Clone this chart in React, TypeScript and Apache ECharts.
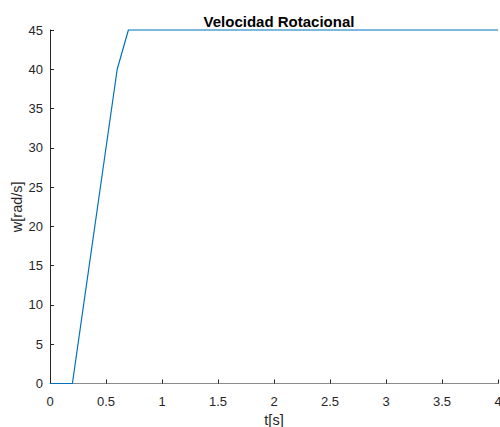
import React, { useEffect, useRef } from "react";
import * as echarts from "echarts";

const tValues = [0, 0.2, 0.6, 0.7, 4];
const wValues = [0, 0, 40, 45, 45];
const titleText = "Velocidad Rotacional";
const xName = "t[s]";
const yName = "w[rad/s]";

export default function App() {
  const ref = useRef<HTMLDivElement>(null);
  useEffect(() => {
    document.body.style.margin = "0";
    const chart = echarts.init(ref.current!, null, { renderer: "svg" });
    const font = "Helvetica, Arial, 'Liberation Sans', sans-serif";
    chart.setOption({
      animation: false,
      backgroundColor: "#ffffff",
      title: {
        text: titleText,
        left: 274,
        top: 9,
        textAlign: "center",
        textStyle: { fontSize: 15, fontWeight: "bold", color: "#000", fontFamily: font },
      },
      grid: {
        left: 50,
        right: 2,
        top: 30,
        bottom: 43.5,
        containLabel: false,
        outerBoundsMode: "none",
      },
      xAxis: {
        type: "value",
        z: 0,
        min: 0,
        max: 4,
        interval: 0.5,
        name: xName,
        nameLocation: "middle",
        nameGap: 26,
        nameTextStyle: { fontSize: 14.5, color: "#262626", fontFamily: font },
        axisLine: { show: true, onZero: false, lineStyle: { color: "#8c8c8c", width: 1 } },
        axisTick: { show: true, inside: true, length: 4, lineStyle: { color: "#262626" } },
        axisLabel: { fontSize: 13, color: "#262626", margin: 11, fontFamily: font, hideOverlap: false },
        splitLine: { show: false },
      },
      yAxis: {
        type: "value",
        z: 0,
        min: 0,
        max: 45,
        interval: 5,
        name: yName,
        nameLocation: "middle",
        nameGap: 26,
        nameMoveOverlap: false,
        nameTextStyle: { fontSize: 14.5, color: "#262626", fontFamily: font },
        axisLine: { show: true, lineStyle: { color: "#262626", width: 1 } },
        axisTick: { show: true, inside: true, length: 4, lineStyle: { color: "#262626" } },
        axisLabel: { fontSize: 13, color: "#262626", margin: 7, fontFamily: font },
        splitLine: { show: false },
      },
      series: [
        {
          type: "line",
          data: tValues.map((t, i) => [t, wValues[i]]),
          showSymbol: false,
          symbol: "none",
          clip: false,
          lineStyle: { color: "#0072BD", width: 1.2 },
          z: 100,
        },
      ],
    });
    return () => chart.dispose();
  }, []);
  return <div ref={ref} style={{ width: 500, height: 427 }} />;
}
